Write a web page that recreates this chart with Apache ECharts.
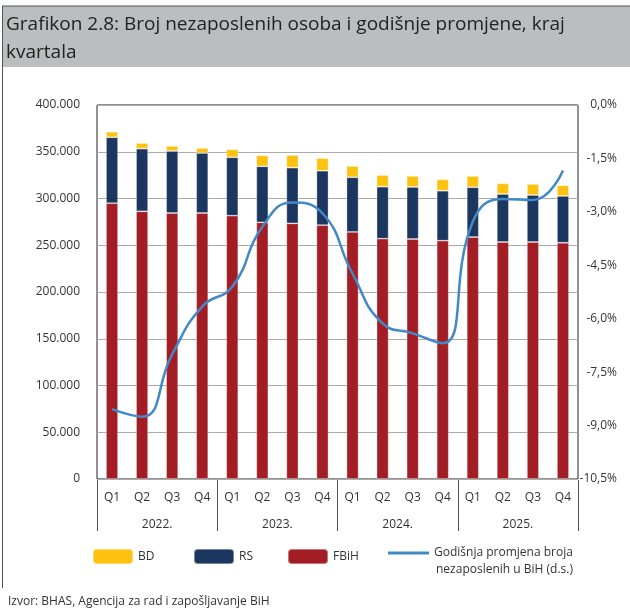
<!DOCTYPE html>
<html>
<head>
<meta charset="utf-8">
<script src="https://cdn.jsdelivr.net/npm/echarts@6/dist/echarts.min.js"></script>
<style>
  html, body { margin: 0; padding: 0; background: #fff; }
  #chart { width: 630px; height: 612px; }
</style>
</head>
<body>
<div id="chart"></div>
<script>
// podaci
const quarters = ['Q1', 'Q2', 'Q3', 'Q4', 'Q1', 'Q2', 'Q3', 'Q4', 'Q1', 'Q2', 'Q3', 'Q4', 'Q1', 'Q2', 'Q3', 'Q4'];
const years = ['2022.', '2023.', '2024.', '2025.'];
const fbih = [295000, 286300, 284500, 284500, 281600, 274500, 273400, 271500, 264200, 257000, 256700, 254900, 258800, 253500, 253500, 252700];
const rs = [70500, 67000, 66300, 64200, 62500, 59900, 59600, 58200, 58500, 55600, 55600, 53400, 53200, 51300, 50200, 50000];
const bd = [5900, 6000, 5350, 5300, 8500, 11800, 13500, 13400, 12100, 12500, 11800, 12200, 12100, 11400, 11800, 11400];
const promjena = [-8.54, -8.75, -7.0, -5.66, -5.10, -3.42, -2.74, -3.04, -4.73, -6.13, -6.41, -6.69, -3.28, -2.64, -2.67, -1.84];

const FONT = '"Open Sans", "Noto Sans", sans-serif';
const TXT = '#333';
const lineName = 'Godišnja promjena broja';

function initChart() {
    const chart = echarts.init(document.getElementById('chart'));
    const legendText = { color: TXT, fontSize: 12, fontFamily: FONT };
    const option = {
        animation: false,
        textStyle: { fontFamily: FONT },
        title: {
            text: 'Grafikon 2.8: Broj nezaposlenih osoba i godišnje promjene, kraj\nkvartala',
            left: 6,
            top: 11,
            padding: 0,
            textStyle: {
                color: '#222',
                fontSize: 19,
                fontWeight: 'normal',
                lineHeight: 28,
                fontFamily: FONT
            }
        },
        graphic: [
            { type: 'rect', z: -10, shape: { x: 3, y: 6, width: 627, height: 61 }, style: { fill: '#BCBDC0' } },
            { type: 'line', shape: { x1: 2, y1: 6, x2: 630, y2: 6 }, style: { stroke: '#555', lineWidth: 1 } },
            { type: 'line', shape: { x1: 2.5, y1: 6, x2: 2.5, y2: 588 }, style: { stroke: '#555', lineWidth: 1 } },
            {
                type: 'text', left: 436, top: 564,
                style: { text: 'nezaposlenih u BiH (d.s.)', fill: TXT, fontSize: 12, fontFamily: FONT }
            },
            {
                type: 'text', left: 8, top: 596,
                style: { text: 'Izvor: BHAS, Agencija za rad i zapošljavanje BiH', fill: TXT, fontSize: 12, fontFamily: FONT }
            }
        ],
        legend: [
            { data: ['BD'], left: 92, top: 548, padding: 0, itemWidth: 40, itemHeight: 15, textStyle: legendText },
            { data: ['RS'], left: 193, top: 548, padding: 0, itemWidth: 40, itemHeight: 15, textStyle: legendText },
            { data: ['FBiH'], left: 287, top: 548, padding: 0, itemWidth: 40, itemHeight: 15, textStyle: legendText },
            { data: [lineName], left: 388, top: 547, padding: 0, itemWidth: 41, itemHeight: 3, icon: 'rect', textStyle: legendText }
        ],
        grid: [
            {
                left: 97,
                right: 52,
                top: 105,
                bottom: 133,
                show: true,
                borderColor: '#222',
                borderWidth: 1
            },
            // traka za godine ispod osi
            { left: 97, right: 52, top: 479, height: 1 }
        ],
        xAxis: [
            {
                type: 'category',
                gridIndex: 0,
                data: quarters,
                axisLine: { show: false },
                axisTick: { show: false },
                axisLabel: { margin: 13, color: TXT, fontSize: 12, interval: 0 }
            },
            {
                type: 'category',
                gridIndex: 1,
                data: years,
                position: 'bottom',
                axisLine: { show: false },
                axisTick: { show: true, inside: false, length: 51, interval: 0, lineStyle: { color: '#555' } },
                axisLabel: { margin: 39, color: TXT, fontSize: 12, interval: 0 }
            }
        ],
        yAxis: [
            {
                type: 'value',
                gridIndex: 0,
                min: 0,
                max: 400000,
                interval: 50000,
                axisLine: { show: false },
                axisTick: { show: false },
                splitLine: { lineStyle: { color: '#ABABAB' } },
                axisLabel: {
                    margin: 17,
                    color: TXT,
                    fontSize: 12,
                    padding: [6, 0, 0, 0],
                    formatter: function (v) { return v === 0 ? '0' : (v / 1000) + '.000'; }
                }
            },
            {
                type: 'value',
                gridIndex: 0,
                min: -10.5,
                max: 0,
                interval: 1.5,
                position: 'right',
                axisLine: { show: false },
                axisTick: { show: false },
                splitLine: { show: false },
                axisLabel: {
                    margin: 39,
                    align: 'right',
                    color: TXT,
                    fontSize: 12,
                    padding: [6, 0, 0, 0],
                    formatter: function (v) {
                        const s = Math.abs(v) < 1e-9 ? '0,0' : v.toFixed(1).replace('.', ',');
                        return s + '%';
                    }
                }
            },
            { type: 'value', gridIndex: 1, show: false }
        ],
        series: [
            {
                name: 'FBiH', type: 'bar', stack: 'uk', barWidth: 12, data: fbih,
                itemStyle: { color: '#A21D24', borderColor: 'rgba(255,255,255,0.4)', borderWidth: 0.8 }
            },
            {
                name: 'RS', type: 'bar', stack: 'uk', barWidth: 12, data: rs,
                itemStyle: { color: '#1B365F', borderColor: 'rgba(255,255,255,0.4)', borderWidth: 0.8 }
            },
            {
                name: 'BD', type: 'bar', stack: 'uk', barWidth: 12, data: bd,
                itemStyle: { color: '#FEC20E', borderColor: 'rgba(255,255,255,0.4)', borderWidth: 0.8 }
            },
            {
                name: lineName, type: 'line', yAxisIndex: 1, data: promjena,
                smooth: true, symbol: 'none',
                lineStyle: { color: '#4389C8', width: 2.5 },
                itemStyle: { color: '#4389C8' },
                z: 5
            }
        ]
    };
    chart.setOption(option);
}

initChart();
</script>
</body>
</html>
